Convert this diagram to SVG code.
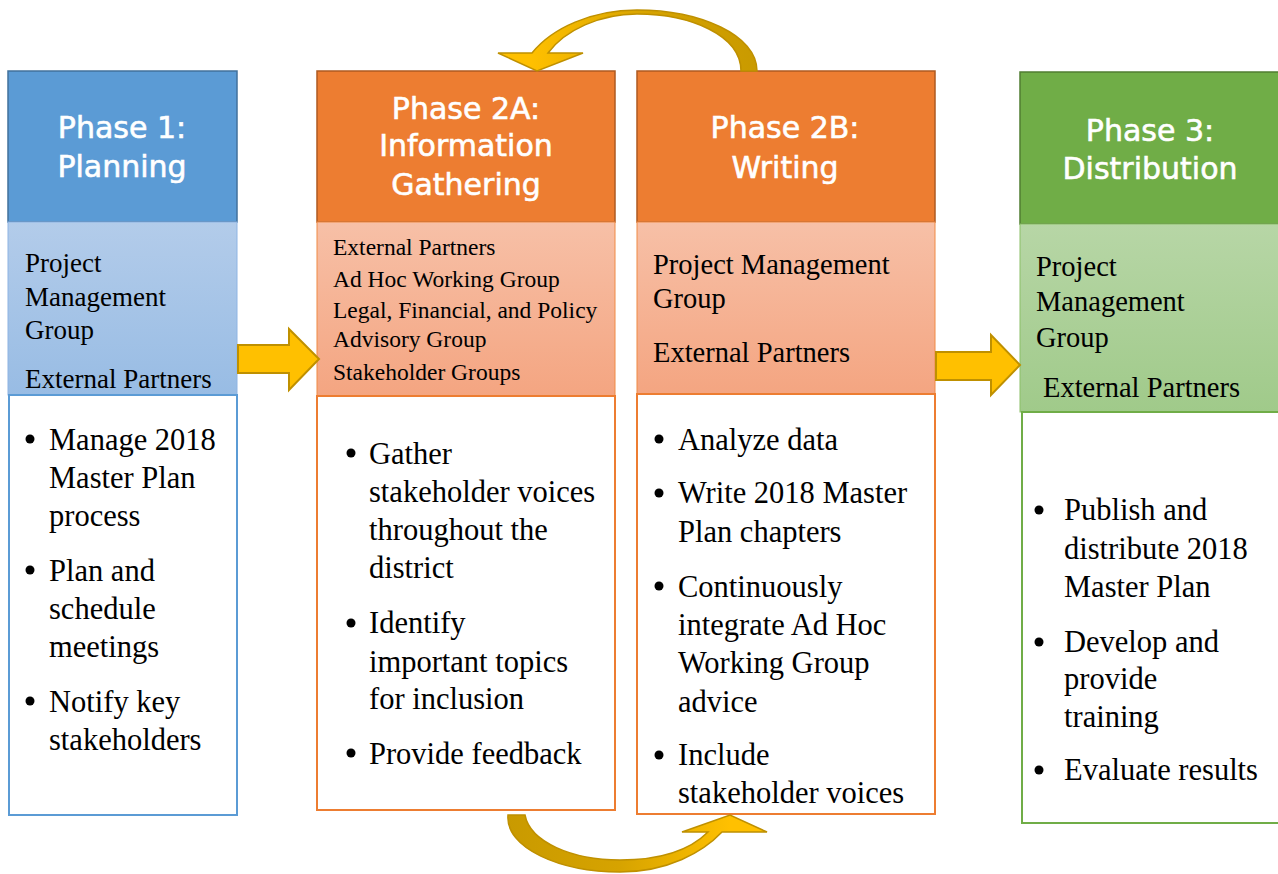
<svg xmlns="http://www.w3.org/2000/svg" width="1278" height="874" viewBox="0 0 1278 874">
<defs>
<linearGradient id="gBlue" x1="0" y1="0" x2="0" y2="1"><stop offset="0" stop-color="#B3CCEA"/><stop offset="1" stop-color="#98BCE4"/></linearGradient>
<linearGradient id="gOrange" x1="0" y1="0" x2="0" y2="1"><stop offset="0" stop-color="#F7C0A7"/><stop offset="1" stop-color="#F4A581"/></linearGradient>
<linearGradient id="gGreen" x1="0" y1="0" x2="0" y2="1"><stop offset="0" stop-color="#B7D6A6"/><stop offset="1" stop-color="#A0CA8A"/></linearGradient>
<linearGradient id="gTop" gradientUnits="userSpaceOnUse" x1="757" y1="40" x2="530" y2="60"><stop offset="0" stop-color="#C99A00"/><stop offset="0.45" stop-color="#D6A300"/><stop offset="1" stop-color="#FFC000"/></linearGradient>
<linearGradient id="gBot" gradientUnits="userSpaceOnUse" x1="508" y1="830" x2="730" y2="830"><stop offset="0" stop-color="#C99A00"/><stop offset="0.5" stop-color="#D6A300"/><stop offset="1" stop-color="#FFC000"/></linearGradient>
</defs>
<style>
.hd{font-family:"DejaVu Sans",Tahoma,sans-serif;font-size:30px;fill:#fff;stroke:#fff;stroke-width:0.6px;text-anchor:middle}
.tx{font-family:"Liberation Serif","Times New Roman",serif;fill:#000}
.b{font-size:30.5px}
.arr{fill:#FFC000;stroke:#BF9000;stroke-width:2;stroke-linejoin:miter}
.cur{stroke:#BF9000;stroke-width:1.5}
.dot{fill:#000}
</style>

<g id="phase1">
<rect x="8" y="71" width="229" height="151" fill="#5B9BD5" stroke="#41719C" stroke-width="1.5"/>
<rect x="8" y="222" width="229" height="173" fill="url(#gBlue)" stroke="#8EB4E3" stroke-width="1"/>
<rect x="9" y="395" width="228" height="420" fill="#fff" stroke="#5B9BD5" stroke-width="2"/>
<text class="hd" x="122" y="138">Phase 1:</text>
<text class="hd" x="122" y="177">Planning</text>
<g class="tx" font-size="27px">
<text x="25" y="272">Project</text>
<text x="25" y="306">Management</text>
<text x="25" y="339">Group</text>
<text x="25" y="388">External Partners</text>
</g>
<g class="tx b">
<circle class="dot" cx="30" cy="439" r="4.5"/>
<circle class="dot" cx="30" cy="570" r="4.5"/>
<circle class="dot" cx="30" cy="701" r="4.5"/>
<text x="49" y="450">Manage 2018</text>
<text x="49" y="488">Master Plan</text>
<text x="49" y="526">process</text>
<text x="49" y="581">Plan and</text>
<text x="49" y="619">schedule</text>
<text x="49" y="657">meetings</text>
<text x="49" y="712">Notify key</text>
<text x="49" y="750">stakeholders</text>
</g>
</g>

<g id="phase2a">
<rect x="317" y="71" width="298" height="151" fill="#ED7D31" stroke="#AE5A21" stroke-width="1.5"/>
<rect x="317" y="222" width="298" height="174" fill="url(#gOrange)" stroke="#F08A45" stroke-width="1"/>
<rect x="317" y="396" width="298" height="414" fill="#fff" stroke="#ED7D31" stroke-width="2"/>
<text class="hd" x="466" y="119">Phase 2A:</text>
<text class="hd" x="466" y="156">Information</text>
<text class="hd" x="466" y="195">Gathering</text>
<g class="tx" font-size="23.5px">
<text x="333" y="255">External Partners</text>
<text x="333" y="287">Ad Hoc Working Group</text>
<text x="333" y="318">Legal, Financial, and Policy</text>
<text x="333" y="347">Advisory Group</text>
<text x="333" y="380">Stakeholder Groups</text>
</g>
<g class="tx b">
<circle class="dot" cx="351" cy="453" r="4.5"/>
<circle class="dot" cx="351" cy="623" r="4.5"/>
<circle class="dot" cx="351" cy="753" r="4.5"/>
<text x="369" y="464">Gather</text>
<text x="369" y="502">stakeholder voices</text>
<text x="369" y="540">throughout the</text>
<text x="369" y="578">district</text>
<text x="369" y="633">Identify</text>
<text x="369" y="672">important topics</text>
<text x="369" y="709">for inclusion</text>
<text x="369" y="764">Provide feedback</text>
</g>
</g>

<g id="phase2b">
<rect x="637" y="71" width="298" height="151" fill="#ED7D31" stroke="#AE5A21" stroke-width="1.5"/>
<rect x="637" y="222" width="298" height="172" fill="url(#gOrange)" stroke="#F08A45" stroke-width="1"/>
<rect x="637" y="394" width="298" height="420" fill="#fff" stroke="#ED7D31" stroke-width="2"/>
<text class="hd" x="785" y="138">Phase 2B:</text>
<text class="hd" x="785" y="178">Writing</text>
<g class="tx" font-size="28.5px">
<text x="653" y="274">Project Management</text>
<text x="653" y="308">Group</text>
<text x="653" y="362">External Partners</text>
</g>
<g class="tx b">
<circle class="dot" cx="659" cy="439" r="4.5"/>
<circle class="dot" cx="659" cy="493" r="4.5"/>
<circle class="dot" cx="659" cy="586" r="4.5"/>
<circle class="dot" cx="659" cy="755" r="4.5"/>
<text x="678" y="450">Analyze data</text>
<text x="678" y="503">Write 2018 Master</text>
<text x="678" y="542">Plan chapters</text>
<text x="678" y="597">Continuously</text>
<text x="678" y="635">integrate Ad Hoc</text>
<text x="678" y="673">Working Group</text>
<text x="678" y="712">advice</text>
<text x="678" y="765">Include</text>
<text x="678" y="803">stakeholder voices</text>
</g>
</g>

<g id="phase3">
<rect x="1020" y="72" width="262" height="152" fill="#70AD47" stroke="#507E32" stroke-width="1.5"/>
<rect x="1020" y="224" width="262" height="188" fill="url(#gGreen)" stroke="#8CC068" stroke-width="1"/>
<rect x="1022" y="412" width="262" height="411" fill="#fff" stroke="#70AD47" stroke-width="2"/>
<text class="hd" x="1150" y="141">Phase 3:</text>
<text class="hd" x="1150" y="179">Distribution</text>
<g class="tx" font-size="28.5px">
<text x="1036" y="276">Project</text>
<text x="1036" y="311">Management</text>
<text x="1036" y="347">Group</text>
<text x="1043" y="397">External Partners</text>
</g>
<g class="tx b">
<circle class="dot" cx="1039" cy="510" r="4.5"/>
<circle class="dot" cx="1039" cy="642" r="4.5"/>
<circle class="dot" cx="1039" cy="770" r="4.5"/>
<text x="1064" y="520">Publish and</text>
<text x="1064" y="559">distribute 2018</text>
<text x="1064" y="597">Master Plan</text>
<text x="1064" y="652">Develop and</text>
<text x="1064" y="689">provide</text>
<text x="1064" y="727">training</text>
<text x="1064" y="780">Evaluate results</text>
</g>
</g>

<g id="connectors">
<path class="arr" d="M238,345 L289,345 L289,329 L319,359 L289,390 L289,373 L238,373 Z"/>
<path class="arr" d="M936,352 L991,352 L991,335 L1020,365 L991,395 L991,380 L936,380 Z"/>
<path class="cur" fill="url(#gTop)" d="M757,71 C757,35 700,10 637,10 C592,10 552,28 532,53 L498,53 L537,71 L583,53 L548,53 C565,30 600,14 637,14 C690,14 741,35 741,71 Z"/>
<path class="cur" fill="url(#gBot)" d="M508,815 C505,848 560,872 620,872 C668,872 703,852 722,832 L767,832 L730,815 L682,832 L708,832 C690,850 660,860 620,860 C572,860 530,842 525,815 Z"/>
</g>
</svg>
